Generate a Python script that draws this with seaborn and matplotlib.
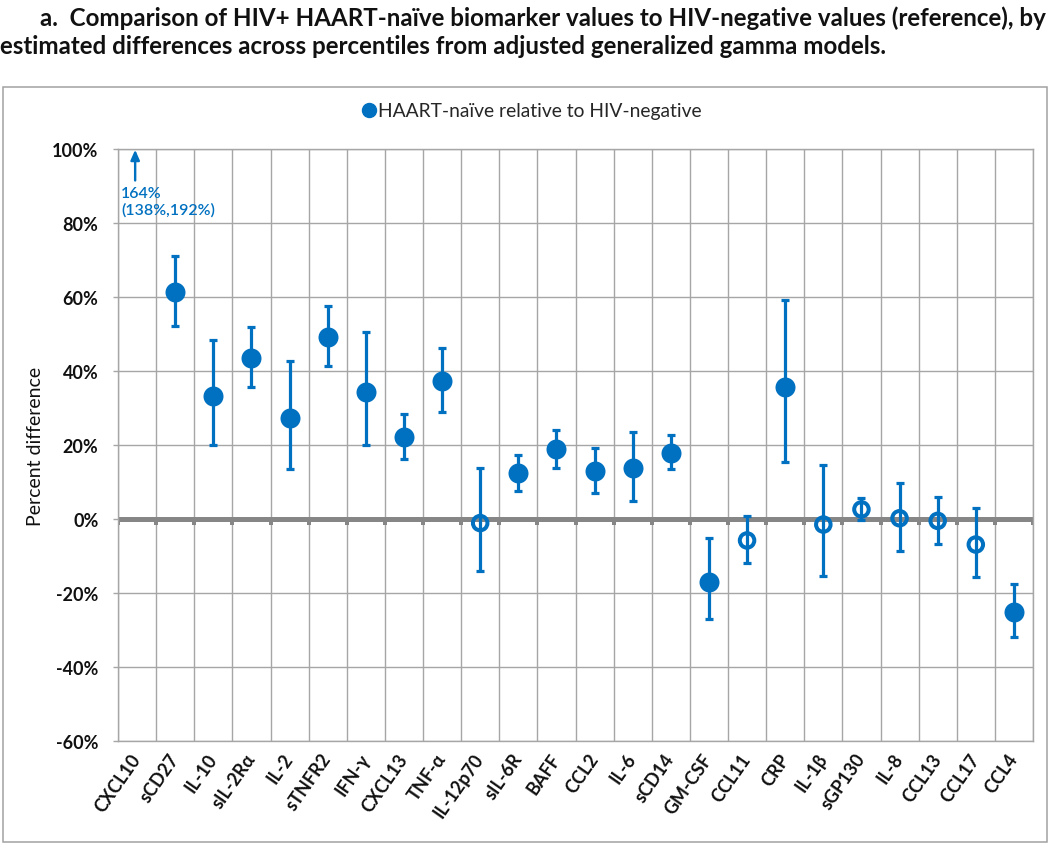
import matplotlib
matplotlib.use("Agg")
import matplotlib.pyplot as plt
import matplotlib.patches as mpatches
from matplotlib.lines import Line2D
from matplotlib.ticker import FixedLocator, FuncFormatter
import seaborn as sns
import pandas as pd
import numpy as np

# ---------------- data ----------------
markers = ["CXCL10", "sCD27", "IL-10", "sIL-2Rα", "IL-2", "sTNFR2", "IFN-γ", "CXCL13",
           "TNF-α", "IL-12p70", "sIL-6R", "BAFF", "CCL2", "IL-6", "sCD14", "GM-CSF",
           "CCL11", "CRP", "IL-1β", "sGP130", "IL-8", "CCL13", "CCL17", "CCL4"]
estimate = [164, 61.4, 33.2, 43.5, 27.3, 49.2, 34.3, 22.1,
            37.3, -1.1, 12.4, 18.8, 13.1, 13.9, 17.9, -17.0,
            -5.8, 35.7, -1.5, 2.6, 0.2, -0.5, -6.9, -25.1]
lower = [138, 52.2, 19.9, 35.8, 13.5, 41.3, 19.9, 16.3,
         28.9, -14.0, 7.6, 13.7, 7.1, 4.9, 13.4, -27.1,
         -11.9, 15.4, -15.4, -0.3, -8.6, -6.8, -15.7, -31.9]
upper = [192, 71.2, 48.3, 51.8, 42.6, 57.6, 50.6, 28.3,
         46.3, 13.7, 17.4, 24.0, 19.2, 23.6, 22.6, -5.2,
         0.7, 59.3, 14.6, 5.6, 9.7, 6.0, 2.9, -17.7]
significant = [True, True, True, True, True, True, True, True,
               True, False, True, True, True, True, True, True,
               False, True, False, False, False, False, False, True]
yticks = [-60, -40, -20, 0, 20, 40, 60, 80, 100]
offchart_label = ["164%", "(138%,192%)"]

df = pd.DataFrame({"marker": markers, "estimate": estimate, "lower": lower,
                   "upper": upper, "significant": significant})
df["pos"] = np.arange(len(df))

BLUE = "#0070C0"
GRID = "#A6A6A6"
FONT = ["Lato", "DejaVu Sans"]

sns.set_theme(style="white")
plt.rcParams["font.family"] = FONT

W, H = 1050, 845
fig = plt.figure(figsize=(W / 100, H / 100), dpi=100)
px = 0.72  # points per pixel

ax = fig.add_axes([118 / W, 1 - 742 / H, (1033 - 118) / W, (742 - 150) / H])
ax.set_xlim(-0.5, len(df) - 0.5)
ax.set_ylim(-60, 100)

# grid
ax.set_yticks(yticks)
ax.yaxis.set_major_formatter(FuncFormatter(lambda v, p: f"{int(v)}%"))
ax.xaxis.set_minor_locator(FixedLocator(np.arange(-0.5, len(df), 1.0)))
ax.set_xticks(df["pos"])
ax.set_xticklabels(df["marker"], rotation=55, ha="right", va="center",
                   rotation_mode="anchor", fontsize=13, fontweight="bold", color="#111111")
ax.grid(True, axis="y", which="major", color=GRID, lw=1.4 * px)
ax.grid(True, axis="x", which="minor", color=GRID, lw=1.4 * px)
ax.grid(False, axis="x", which="major")
ax.set_axisbelow(True)
for s in ax.spines.values():
    s.set_color(GRID)
    s.set_linewidth(1.4 * px)
ax.tick_params(axis="x", which="both", length=0, pad=10)
ax.tick_params(axis="y", which="major", length=5 * px, width=1.4 * px, color=GRID,
               direction="out", left=True, labelsize=13, pad=10.5, labelcolor="#111111")
for t in ax.get_yticklabels():
    t.set_fontweight("bold")

# zero line with ticks
ax.axhline(0, color="#868686", lw=5 * px, zorder=2)
ax.vlines(np.arange(-0.5, len(df), 1.0), -1.6, 0, color="#868686", lw=4 * px, zorder=2)

# error bars (only for in-range values)
on = df[df["estimate"] < 100]
ax.errorbar(on["pos"], on["estimate"],
            yerr=[on["estimate"] - on["lower"], on["upper"] - on["estimate"]],
            fmt="none", ecolor=BLUE, elinewidth=3.2 * px, capsize=4.3 * px,
            capthick=3.2 * px, zorder=3)

sig = on[on["significant"]]
nsig = on[~on["significant"]]
sns.scatterplot(data=sig, x="pos", y="estimate", ax=ax, color=BLUE, s=(20 * px) ** 2,
                edgecolor=BLUE, linewidth=0, zorder=4, legend=False)
sns.scatterplot(data=nsig, x="pos", y="estimate", ax=ax, s=(14.5 * px) ** 2,
                facecolor="none", edgecolor=BLUE, linewidth=4 * px, zorder=4, legend=False)
ax.set_xlabel("")
ax.set_ylabel("Percent difference", fontsize=14, labelpad=5.5, color="#111111")

# off-chart annotation for CXCL10
ax.annotate("", xy=(-0.05, 99.8), xytext=(-0.05, 91.5),
            arrowprops=dict(arrowstyle="-|>,head_length=0.5,head_width=0.22",
                            color=BLUE, lw=2.4 * px, shrinkA=0, shrinkB=0))
ax.text(-0.42, 88.0, offchart_label[0], color=BLUE, fontsize=11.5, ha="left", va="center",
        fontweight="semibold")
ax.text(-0.42, 83.6, offchart_label[1], color=BLUE, fontsize=11.5, ha="left", va="center",
        fontweight="semibold")

# legend
handle = Line2D([], [], marker="o", ls="none", color=BLUE, markersize=14 * px)
fig.legend([handle], ["HAART-naïve relative to HIV-negative"], loc="center",
           bbox_to_anchor=(531 / W, 1 - 112 / H), frameon=False, fontsize=13.9,
           handletextpad=0.05, borderaxespad=0, handlelength=0.9)

# titles
fig.text(40 / W, 1 - 18 / H,
         "a.  Comparison of HIV+ HAART-naïve biomarker values to HIV-negative values (reference), by",
         fontsize=17.4, fontweight="bold", ha="left", va="center", color="#111111")
fig.text(0 / W, 1 - 47 / H,
         "estimated differences across percentiles from adjusted generalized gamma models.",
         fontsize=17.4, fontweight="bold", ha="left", va="center", color="#111111")

# chart frame
fig.patches.append(mpatches.Rectangle((3 / W, 2 / H), 1044 / W, (843 - 88) / H,
                                      transform=fig.transFigure, fill=False,
                                      edgecolor="#A0A0A0", lw=1.5 * px))

fig.savefig("out.png", dpi=100)
